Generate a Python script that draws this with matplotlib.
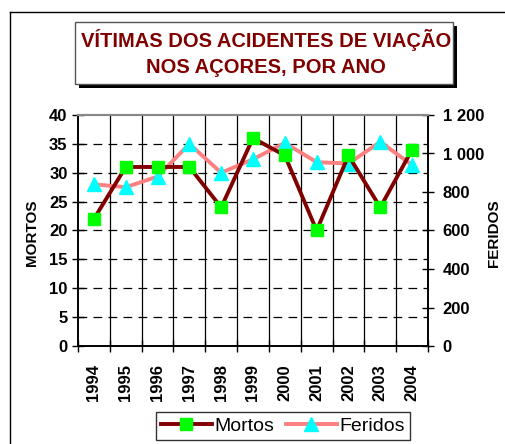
import matplotlib
matplotlib.use("Agg")
import matplotlib.pyplot as plt
from matplotlib.patches import Rectangle
from matplotlib.lines import Line2D
import numpy as np

years = ["1994", "1995", "1996", "1997", "1998", "1999", "2000", "2001", "2002", "2003", "2004"]
mortos = [22, 31, 31, 31, 24, 36, 33, 20, 33, 24, 34]
feridos = [840, 825, 880, 1050, 900, 970, 1055, 955, 948, 1060, 940]
left_ticks = [0, 5, 10, 15, 20, 25, 30, 35, 40]
right_ticks = [0, 200, 400, 600, 800, 1000, 1200]
right_labels = ["0", "200", "400", "600", "800", "1 000", "1 200"]

plt.rcParams['font.family'] = ['Liberation Sans', 'DejaVu Sans']

W, H = 505, 444
fig = plt.figure(figsize=(W / 100, H / 100), dpi=100)

def fx(px):
    return px / W

def fy(py):
    return 1 - py / H

# outer frame
fig.add_artist(Line2D([fx(10), fx(10)], [fy(12), 0], color='black', lw=1.0, transform=fig.transFigure))
fig.add_artist(Line2D([fx(10), 1], [fy(12), fy(12)], color='black', lw=1.0, transform=fig.transFigure))

# title box with shadow
bx0, bx1, by0, by1 = 75, 453, 22, 84
fig.add_artist(Rectangle((fx(bx0 + 4), fy(by1 + 4)), fx(bx1 - bx0), (by1 - by0) / H,
                         transform=fig.transFigure, facecolor='black', edgecolor='none'))
fig.add_artist(Rectangle((fx(bx0), fy(by1)), fx(bx1 - bx0), (by1 - by0) / H,
                         transform=fig.transFigure, facecolor='white', edgecolor='#555555', lw=1.0))
fig.text(fx(266), fy(53), "VÍTIMAS DOS ACIDENTES DE VIAÇÃO\nNOS AÇORES, POR ANO",
         ha='center', va='center', color='#800000', fontsize=14.5, fontweight='bold',
         linespacing=1.45)

ax = fig.add_axes([fx(78), fy(346), fx(428 - 78), (346 - 115) / H])
x = np.arange(len(years))
ax.set_xlim(-0.5, len(years) - 0.5)
ax.set_ylim(0, 40)

# grid
for yv in left_ticks[1:-1]:
    ax.axhline(yv, color='black', lw=0.9, dashes=(7, 5), zorder=1)
for xv in np.arange(0.5, len(years) - 0.5, 1):
    ax.axvline(xv, color='black', lw=0.9, zorder=1)

ax2 = ax.twinx()
ax2.set_ylim(0, 1200)

l2, = ax2.plot(x, feridos, color='#FF8080', lw=2.8, marker='^', markersize=10,
               markerfacecolor='#00FFFF', markeredgecolor='#00FFFF', label='Feridos', zorder=3)
l1, = ax2.plot(x, np.array(mortos) * 30, color='#800000', lw=2.8, marker='s', markersize=9,
               markerfacecolor='#00FF00', markeredgecolor='#00FF00', label='Mortos', zorder=4)

ax.set_yticks(left_ticks)
ax.set_yticklabels([str(v) for v in left_ticks], fontsize=12, fontweight='bold')
ax.set_xticks(np.arange(-0.5, len(years), 1))
ax.set_xticklabels([])
ax.set_xticks(x, minor=True)
ax.set_xticklabels(years, minor=True, rotation=90, fontsize=12, fontweight='bold')
ax.tick_params(axis='x', which='major', direction='inout', length=9, width=1)
ax.tick_params(axis='x', which='minor', length=0, pad=13)
ax.tick_params(axis='y', direction='inout', length=9, width=1, pad=3)

ax2.set_yticks(right_ticks)
ax2.set_yticklabels(right_labels, fontsize=12, fontweight='bold')
ax2.tick_params(axis='y', direction='inout', length=9, width=1, pad=6)

for a in (ax, ax2):
    a.spines['top'].set_color('#888888')
    a.spines['top'].set_linewidth(1.5)
    for s in ('left', 'right', 'bottom'):
        a.spines[s].set_linewidth(1.2)

ax.set_ylabel("MORTOS", fontsize=11, fontweight='bold')
ax.yaxis.set_label_coords((39 - 78) / 350, 0.49)
ax2.set_ylabel("FERIDOS", fontsize=11, fontweight='bold', rotation=90)
ax2.yaxis.set_label_coords((487 - 78) / 350, 0.49)

leg = fig.legend([l1, l2], ['Mortos', 'Feridos'], loc='center',
                 bbox_to_anchor=(fx(283), fy(426)), ncol=2, fontsize=14,
                 frameon=True, fancybox=False, edgecolor='black', handlelength=2.6,
                 handletextpad=0.15, columnspacing=0.6, borderpad=0.25)
leg.get_frame().set_linewidth(1.0)

fig.savefig("out.png", dpi=100)
